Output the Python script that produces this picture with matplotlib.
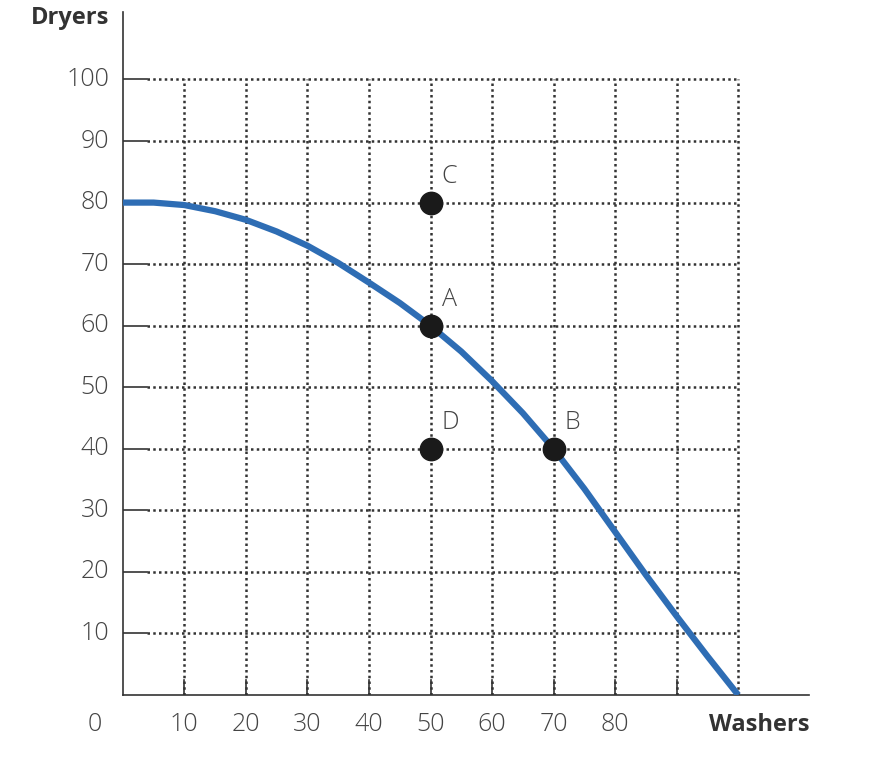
import matplotlib
matplotlib.use("Agg")
import matplotlib.pyplot as plt

curve_x = [0, 5, 10, 15, 20, 25, 30, 35, 40, 45, 50, 55, 60, 65, 70, 75, 80, 85, 90, 95, 100]
curve_y = [80, 80, 79.6, 78.6, 77.2, 75.3, 73, 70.2, 67, 63.7, 60, 55.8, 51, 45.8, 40, 33.5, 26.5, 19.5, 12.8, 6.3, 0]
pt_labels = ["C", "A", "D", "B"]
pt_x = [50, 50, 50, 70]
pt_y = [80, 60, 40, 40]
xticks = [10, 20, 30, 40, 50, 60, 70, 80]
yticks = [10, 20, 30, 40, 50, 60, 70, 80, 90, 100]

plt.rcParams['font.family'] = ['Open Sans', 'DejaVu Sans']
fig = plt.figure(figsize=(8.9, 7.6), dpi=100)
ax = fig.add_axes([0.138, 0.0855, 0.771, 0.899])
ax.set_xlim(0, 111.5)
ax.set_ylim(0, 111)
for s in ['top', 'right']:
    ax.spines[s].set_visible(False)
for s in ['left', 'bottom']:
    ax.spines[s].set_color('#333333')
    ax.spines[s].set_linewidth(1.2)

gc = '#333333'
for v in range(10, 101, 10):
    ax.plot([v, v], [0, 100], color=gc, lw=1.8, ls=(0, (1, 1.3)), zorder=1)
for v in yticks:
    ax.plot([0, 4], [v, v], color=gc, lw=1.2, zorder=1)
    ax.plot([4, 100], [v, v], color=gc, lw=1.8, ls=(0, (1, 1.3)), zorder=1)
for v in range(10, 91, 10):
    ax.plot([v, v], [0, 2.5], color=gc, lw=1.2, zorder=1)

ax.plot(curve_x, curve_y, color='#2e6db4', lw=4.5, zorder=3, solid_capstyle='butt', solid_joinstyle='round')
ax.scatter(pt_x, pt_y, s=260, color='#1a1a1a', zorder=4)
for l, x, y in zip(pt_labels, pt_x, pt_y):
    ax.text(x + 1.8, y + 2.2, l, fontsize=18, color='#444444', ha='left', va='bottom', fontweight='light')

ax.set_xticks([])
ax.set_yticks([])
for v in xticks:
    ax.text(v, -4.8, str(v), ha='center', va='center', fontsize=18, color='#444444', fontweight='light')
ax.text(-4.5, -4.8, '0', ha='center', va='center', fontsize=18, color='#444444', fontweight='light')
for v in yticks:
    ax.text(-2.2, v, str(v), ha='right', va='center', fontsize=18, color='#444444', fontweight='light')
ax.text(-2.2, 110, 'Dryers', ha='right', va='center', fontsize=17, color='#333333', fontweight='bold')
ax.text(111.5, -4.8, 'Washers', ha='right', va='center', fontsize=17, color='#333333', fontweight='bold')
fig.savefig('out.png', dpi=100)
